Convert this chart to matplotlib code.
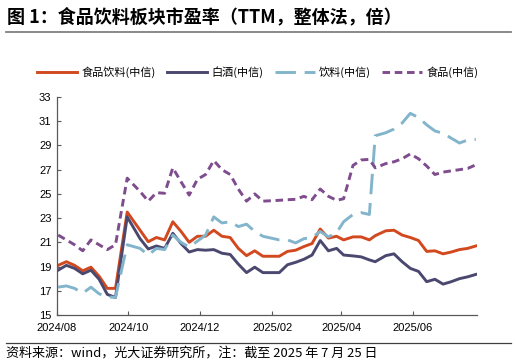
import numpy as np
import pandas as pd
import matplotlib
matplotlib.use("Agg")
from matplotlib import pyplot as plt
import matplotlib.dates as mdates

plt.rcParams['font.family'] = ['Noto Sans CJK SC', 'DejaVu Sans']

# weekly dates (last trading day of each week)
dates = pd.to_datetime([
    "2024-08-02", "2024-08-09", "2024-08-16", "2024-08-23", "2024-08-30",
    "2024-09-06", "2024-09-13", "2024-09-20", "2024-09-30", "2024-10-11",
    "2024-10-18", "2024-10-25", "2024-11-01", "2024-11-08", "2024-11-15",
    "2024-11-22", "2024-11-29", "2024-12-06", "2024-12-13", "2024-12-20",
    "2024-12-27", "2025-01-03", "2025-01-10", "2025-01-17", "2025-01-24",
    "2025-02-07", "2025-02-14", "2025-02-21", "2025-02-28", "2025-03-07",
    "2025-03-14", "2025-03-21", "2025-03-28", "2025-04-03", "2025-04-11",
    "2025-04-18", "2025-04-25", "2025-04-30", "2025-05-09", "2025-05-16",
    "2025-05-23", "2025-05-30", "2025-06-06", "2025-06-13", "2025-06-20",
    "2025-06-27", "2025-07-04", "2025-07-11", "2025-07-18", "2025-07-25",
])

food_bev = [19.1, 19.4, 19.1, 18.65, 18.95, 18.2, 17.2, 17.2, 23.5, 22.0,
            21.05, 21.4, 21.2, 22.7, 21.9, 21.0, 21.5, 21.5, 22.0, 21.5,
            21.4, 20.5, 19.9, 20.3, 19.85, 19.85, 20.25, 20.35, 20.65, 20.9,
            22.1, 21.35, 21.5, 21.2, 21.45, 21.45, 21.2, 21.55, 21.95, 22.0,
            21.6, 21.4, 21.15, 20.25, 20.3, 20.05, 20.2, 20.4, 20.5, 20.7]
baijiu = [18.7, 19.1, 18.85, 18.4, 18.7, 17.95, 16.7, 16.45, 23.1, 21.3,
          20.45, 20.7, 20.5, 21.75, 20.9, 20.2, 20.4, 20.35, 20.4, 20.1,
          20.0, 19.2, 18.5, 18.95, 18.5, 18.5, 19.15, 19.35, 19.6, 19.95,
          21.15, 20.3, 20.5, 19.95, 19.88, 19.8, 19.55, 19.4, 19.9, 20.05,
          19.4, 18.85, 18.6, 17.75, 17.95, 17.55, 17.75, 18.0, 18.15, 18.35]
beverage = [17.3, 17.4, 17.2, 16.8, 17.3, 16.75, 16.5, 16.45, 20.8, 20.5,
            19.95, 20.5, 20.4, 21.6, 21.0, 20.6, 21.1, 21.6, 23.1, 22.6,
            22.7, 22.3, 22.5, 21.9, 21.5, 21.2, 21.2, 20.95, 21.3, 21.4,
            21.9, 21.45, 21.8, 22.7, 23.3, 23.45, 23.3, 29.8, 30.05, 30.35,
            30.85, 31.65, 31.3, 30.7, 30.2, 30.0, 29.6, 29.2, 29.45, 29.5]
food = [21.6, 21.2, 20.8, 20.3, 21.2, 20.8, 20.4, 20.8, 26.3, 25.2,
        24.4, 25.1, 25.05, 27.15, 26.0, 24.9, 26.2, 26.6, 27.75, 27.0,
        26.6, 25.4, 24.4, 25.0, 24.4, 24.47, 24.52, 24.55, 24.8, 24.52,
        25.4, 24.8, 24.47, 24.6, 27.35, 27.8, 27.85, 27.15, 27.5, 27.65,
        27.9, 28.3, 27.9, 27.3, 26.6, 26.8, 26.9, 27.0, 27.1, 27.4]

series_names = ['食品饮料(中信)', '白酒(中信)', '饮料(中信)', '食品(中信)']

fig = plt.figure(figsize=(5.16, 3.64), dpi=100)

# title and rules
fig.text(7/516, 1 - 17/364, '图 1：食品饮料板块市盈率（TTM，整体法，倍）',
         fontsize=13, fontweight='bold', ha='left', va='center')
fig.add_artist(plt.Line2D([6/516, 511/516], [1 - 32/364, 1 - 32/364],
                          color='#7f7f7f', lw=1.3))
fig.add_artist(plt.Line2D([6/516, 511/516], [1 - 343/364, 1 - 343/364],
                          color='#404040', lw=0.9))
fig.text(6/516, 1 - 353/364, '资料来源：wind，光大证券研究所，注：截至 2025 年 7 月 25 日',
         fontsize=9.4, ha='left', va='center')

ax = fig.add_axes([57/516, 1 - 315/364, (477 - 57)/516, (315 - 97)/364])

lw = 2.1
ax.plot(dates, food_bev, color='#D2491F', lw=lw, label=series_names[0])
ax.plot(dates, baijiu, color='#4B4870', lw=lw, label=series_names[1])
ax.plot(dates, beverage, color='#82B5CB', lw=lw, dashes=(7, 3), label=series_names[2])
ax.plot(dates, food, color='#7F4D8E', lw=lw, dashes=(2.6, 1.6), label=series_names[3])

ax.set_ylim(15, 33)
ax.set_yticks(np.arange(15, 34, 2))
ax.set_xlim(pd.Timestamp("2024-08-01"), pd.Timestamp("2025-07-26"))
xt = pd.to_datetime(["2024-08-01", "2024-10-01", "2024-12-01",
                     "2025-02-01", "2025-04-01", "2025-06-01"])
ax.set_xticks(xt)
ax.xaxis.set_major_formatter(mdates.DateFormatter('%Y/%m'))

for s in ['top', 'right']:
    ax.spines[s].set_visible(False)
for s in ['left', 'bottom']:
    ax.spines[s].set_color('#595959')
    ax.spines[s].set_linewidth(0.9)
ax.tick_params(direction='in', length=3, color='#595959', width=0.8,
               labelsize=8, pad=4)
for lab in ax.get_xticklabels() + ax.get_yticklabels():
    lab.set_fontfamily(['Liberation Sans', 'DejaVu Sans'])
ax.tick_params(axis='x', pad=6)

leg = fig.legend(loc='center', bbox_to_anchor=(0.5, 1 - 72/364), ncol=4,
                 frameon=False, fontsize=8, handlelength=3.6,
                 columnspacing=1.0, handletextpad=0.4)

fig.savefig('out.png', dpi=100)
